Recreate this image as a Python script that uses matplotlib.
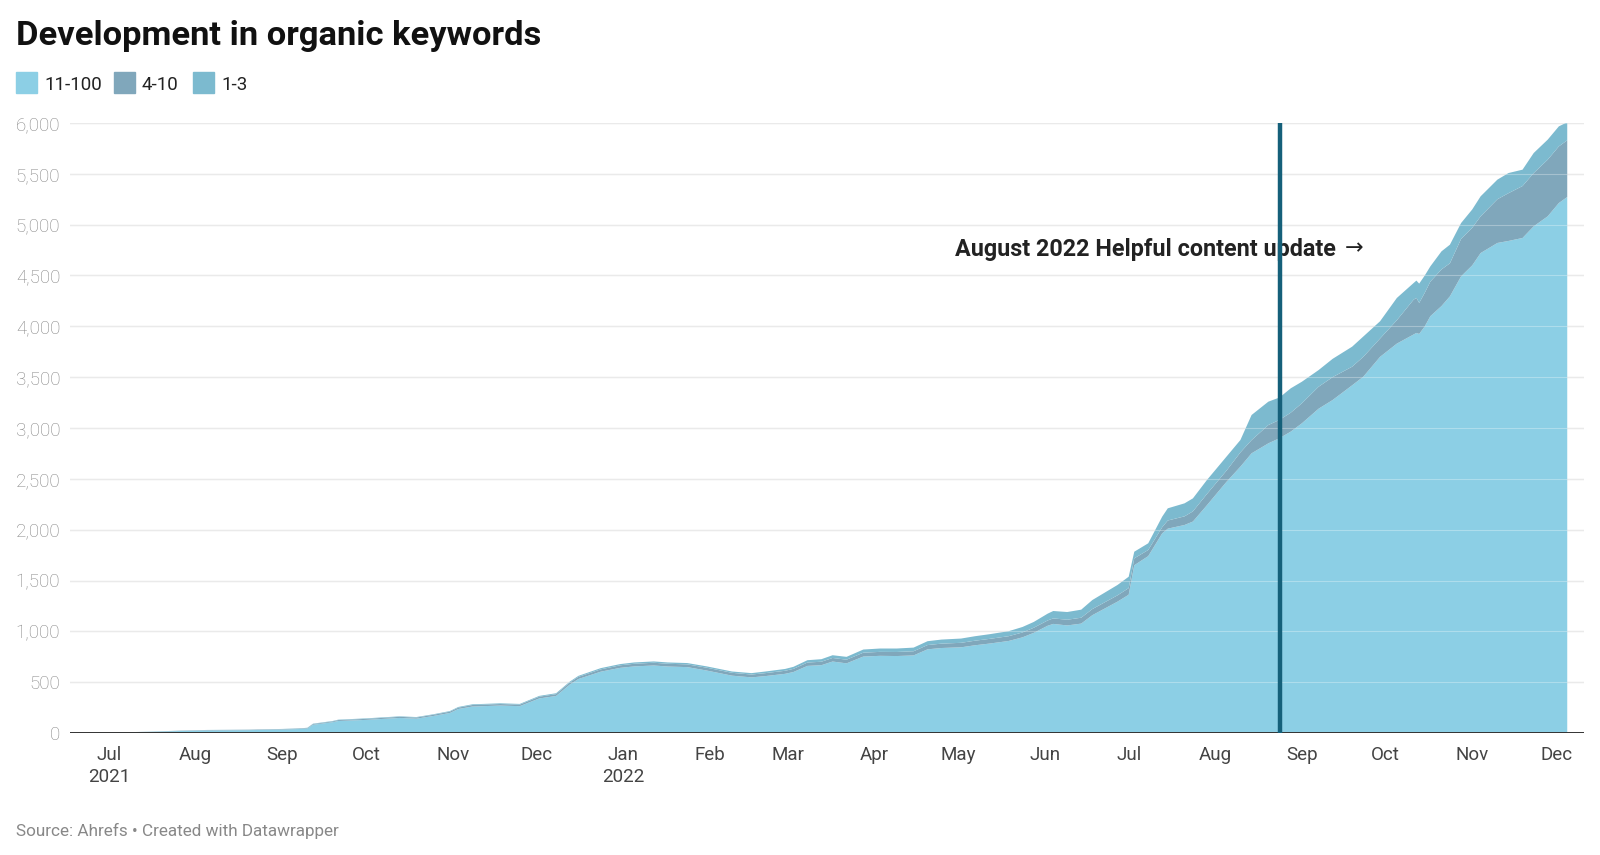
import numpy as np
import pandas as pd
import matplotlib
matplotlib.use('Agg')
import matplotlib.pyplot as plt
from matplotlib.ticker import FuncFormatter
from matplotlib.patches import Rectangle

# keyword counts, by ranking position band
dates = [
    '2021-06-17', '2021-06-24', '2021-07-01', '2021-07-15', '2021-07-27', '2021-08-05',
    '2021-08-20', '2021-09-01', '2021-09-08', '2021-09-10', '2021-09-12', '2021-09-19',
    '2021-09-21', '2021-10-01', '2021-10-13', '2021-10-19', '2021-10-25', '2021-10-31',
    '2021-11-03', '2021-11-08', '2021-11-18', '2021-11-25', '2021-12-02', '2021-12-08',
    '2021-12-13', '2021-12-16', '2021-12-24', '2021-12-31', '2022-01-05', '2022-01-12',
    '2022-01-17', '2022-01-24', '2022-01-31', '2022-02-09', '2022-02-16', '2022-02-21',
    '2022-02-28', '2022-03-03', '2022-03-08', '2022-03-13', '2022-03-17', '2022-03-22',
    '2022-03-28', '2022-04-03', '2022-04-09', '2022-04-15', '2022-04-20', '2022-04-25',
    '2022-05-02', '2022-05-07', '2022-05-12', '2022-05-19', '2022-05-24', '2022-05-28',
    '2022-06-02', '2022-06-04', '2022-06-09', '2022-06-14', '2022-06-18', '2022-06-27',
    '2022-07-01', '2022-07-03', '2022-07-08', '2022-07-13', '2022-07-15', '2022-07-21',
    '2022-07-24', '2022-07-29', '2022-08-05', '2022-08-10', '2022-08-14', '2022-08-20',
    '2022-08-24', '2022-08-28', '2022-09-01', '2022-09-07', '2022-09-12', '2022-09-19',
    '2022-09-23', '2022-09-29', '2022-10-05', '2022-10-11', '2022-10-12', '2022-10-13',
    '2022-10-15', '2022-10-17', '2022-10-21', '2022-10-24', '2022-10-28', '2022-11-01',
    '2022-11-04', '2022-11-10', '2022-11-14', '2022-11-19', '2022-11-23', '2022-11-28',
    '2022-12-02', '2022-12-05',
]
kw_11_100 = [
    0, 1, 3, 11, 20, 25,
    28, 34, 40, 44, 81, 106,
    118, 129, 148, 141, 167, 197,
    236, 260, 270, 264, 340, 364,
    478, 531, 603, 641, 655, 664,
    654, 648, 614, 564, 547, 560,
    582, 600, 660, 667, 703, 685,
    752, 759, 757, 763, 823, 836,
    843, 863, 879, 905, 941, 985,
    1055, 1073, 1058, 1076, 1159, 1292,
    1360, 1650, 1740, 1964, 2010, 2046,
    2080, 2240, 2470, 2620, 2751, 2849,
    2900, 2964, 3046, 3190, 3275, 3420,
    3505, 3700, 3830, 3920, 3935, 3925,
    4000, 4100, 4200, 4295, 4492, 4600,
    4721, 4820, 4840, 4869, 4984, 5082,
    5213, 5272,
]
kw_4_10 = [
    0, 0, 0, 1, 3, 4,
    4, 4, 5, 5, 7, 8,
    9, 10, 11, 11, 12, 13,
    13, 15, 15, 15, 17, 18,
    20, 21, 23, 25, 26, 27,
    27, 27, 28, 28, 28, 29,
    30, 31, 33, 34, 35, 36,
    38, 39, 40, 41, 42, 43,
    44, 45, 46, 47, 48, 50,
    52, 54, 56, 58, 60, 62,
    65, 68, 60, 60, 80, 85,
    100, 110, 110, 140, 130, 180,
    180, 186, 197, 216, 225, 183,
    195, 180, 230, 342, 345, 305,
    330, 340, 360, 325, 368, 370,
    361, 430, 470, 511, 524, 557,
    557, 558,
]
kw_1_3 = [
    0, 0, 0, 1, 1, 1,
    1, 2, 2, 3, 4, 4,
    4, 5, 5, 5, 5, 6,
    7, 7, 7, 7, 8, 9,
    9, 10, 12, 12, 13, 13,
    13, 13, 13, 13, 14, 16,
    18, 20, 23, 25, 27, 28,
    31, 33, 34, 36, 38, 40,
    42, 44, 46, 49, 54, 57,
    67, 73, 76, 79, 89, 102,
    112, 65, 66, 104, 120, 128,
    128, 138, 138, 122, 247, 230,
    220, 240, 212, 164, 180, 197,
    200, 170, 219, 164, 170, 190,
    170, 150, 178, 183, 156, 180,
    197, 193, 198, 161, 197, 197,
    197, 177,
]

series_names = ['11-100', '4-10', '1-3']
colors = ['#8ccfe5', '#80a7bb', '#7cbacf']

update_date = '2022-08-24'
update_label = 'August 2022 Helpful content update'
x_start, x_end = '2021-06-17', '2022-12-11'

plt.rcParams['font.family'] = ['Roboto', 'DejaVu Sans']

W, H = 1600, 855
fig = plt.figure(figsize=(W / 100, H / 100), dpi=100)
ax = fig.add_axes([70 / W, 1 - 733 / H, (1584 - 70) / W, (733 - 123) / H])

x = pd.to_datetime(dates)
ax.stackplot(x, kw_11_100, kw_4_10, kw_1_3, colors=colors, linewidth=0, zorder=2)

ax.set_xlim(pd.Timestamp(x_start), pd.Timestamp(x_end))
ax.set_ylim(0, 6000)

# grid, faintly visible through the areas as well
yticks = np.arange(0, 6001, 500)
ax.set_yticks(yticks)
ax.yaxis.set_major_formatter(FuncFormatter(lambda v, p: f'{int(v):,}'))
for y in yticks[1:]:
    ax.axhline(y, color='#e2e2e2', lw=1, zorder=1)
    ax.axhline(y, color='white', lw=0.8, alpha=0.3, zorder=3)
ax.axhline(0, color='#333333', lw=1.4, zorder=4)

months = pd.date_range('2021-07-01', '2022-12-01', freq='MS')
month_labels = []
for i, m in enumerate(months):
    lab = m.strftime('%b')
    if i == 0 or m.month == 1:
        lab += '\n' + str(m.year)
    month_labels.append(lab)
ax.set_xticks(months)
ax.set_xticklabels(month_labels)
for lbl in ax.get_xticklabels():
    lbl.set_linespacing(1.3)

ax.tick_params(axis='x', length=0, pad=9, labelsize=13.5, labelcolor='#444444')
ax.tick_params(axis='y', length=0, pad=7, labelsize=13.5, labelcolor='#858585')
for lbl in ax.get_yticklabels():
    lbl.set_fontweight('light')
for s in ax.spines.values():
    s.set_visible(False)

# helpful content update marker
t = ax.text(pd.Timestamp('2022-04-30'), 4760, update_label, fontsize=16.8,
            fontweight='bold', color='#222222', va='center', ha='left', zorder=5)
fig.canvas.draw()
bb = t.get_window_extent()
fig.text((bb.x1 + 8) / W, bb.y0 / H + (bb.y1 - bb.y0) / H / 2, '\u2192',
         fontsize=16, color='#222222', va='center', ha='left')
ax.axvline(pd.Timestamp(update_date), color='#15607a', lw=3.2, zorder=6)

# title + legend
fig.text(16 / W, 1 - 45 / H, 'Development in organic keywords', fontsize=24.8,
         fontweight='bold', color='#111111', va='baseline')
leg_x = [16, 114, 193]
for lx, name, c in zip(leg_x, series_names, colors):
    fig.patches.append(Rectangle((lx / W, 1 - 93 / H), 21 / W, 21 / H,
                                 transform=fig.transFigure, color=c))
    fig.text((lx + 28) / W, 1 - 90 / H, name, fontsize=13.5, color='#222222',
             va='baseline')

fig.text(16 / W, 1 - 836 / H, 'Source: Ahrefs \u2022 Created with Datawrapper',
         fontsize=12.3, color='#888888', va='baseline')

fig.savefig('out.png', dpi=100)
